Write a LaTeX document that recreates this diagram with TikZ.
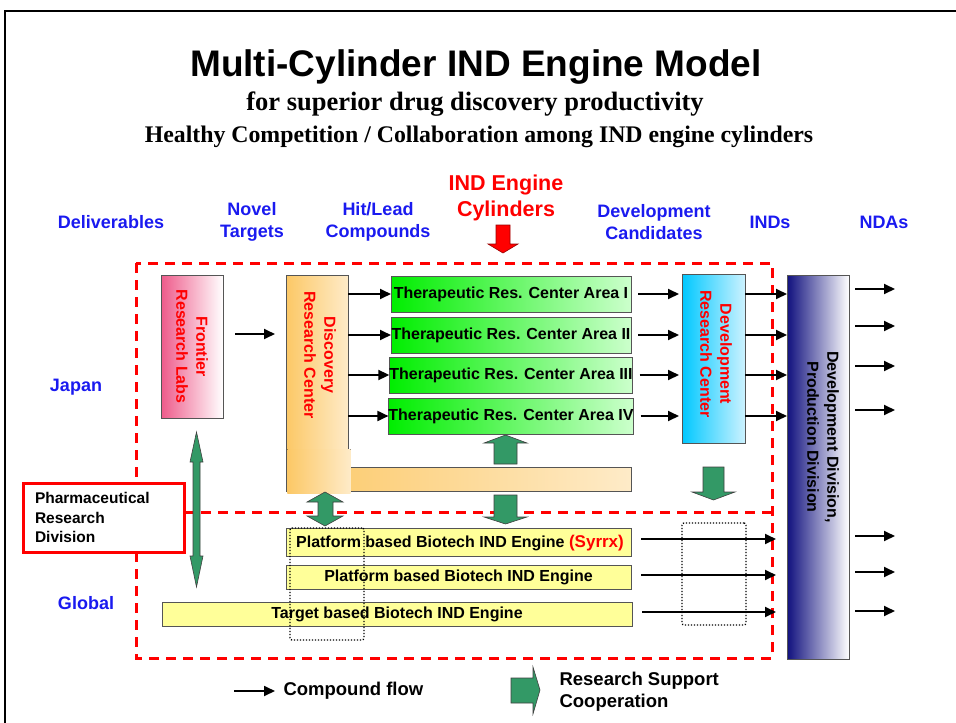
\documentclass[tikz,border=0pt]{standalone}
\usepackage{fontspec}
\setmainfont{Liberation Sans}
\newfontfamily\timesf{Liberation Serif}
\usetikzlibrary{arrows.meta}
\definecolor{hdrblue}{HTML}{1A1AF0}
\definecolor{pinkL}{HTML}{EE5A8A}
\definecolor{orgL}{HTML}{FCC866}
\definecolor{orgR}{HTML}{FEEBC8}
\definecolor{thG}{HTML}{00EE00}
\definecolor{thL}{HTML}{CCFFCC}
\definecolor{cyL}{HTML}{00C8FF}
\definecolor{cyR}{HTML}{CCF2FF}
\definecolor{navy}{HTML}{10107E}
\definecolor{yel}{HTML}{FFFF99}
\definecolor{agreen}{HTML}{339966}
\definecolor{boxline}{HTML}{555555}
\begin{document}
\begin{tikzpicture}[x=1pt,y=-1pt,
  box/.style={draw=boxline, line width=0.8pt, inner sep=0pt, outer sep=0pt},
  flow/.style={line width=1.8pt, -{Triangle[length=11pt,width=10pt]}},
  blk/.style={fill=agreen, draw=black!75, line width=0.6pt},
  hdr/.style={text=hdrblue, font=\bfseries\fontsize{18}{22}\selectfont, align=center},
  vtxt/.style={rotate=-90, align=center, font=\bfseries\fontsize{16}{20}\selectfont},
  bt/.style={font=\bfseries\fontsize{16}{18}\selectfont},
  ther/.style={box, left color=thG, right color=thL, minimum width=240pt, minimum height=36pt, bt},
  ybox/.style={box, fill=yel, bt},
  rdash/.style={draw=red, line width=3pt, dash pattern=on 10pt off 7pt},
  dotbox/.style={draw=black, line width=1.3pt, dash pattern=on 1.2pt off 1.8pt, rounded corners=2pt, inner sep=0pt}
]
\useasboundingbox (0,0) rectangle (956,723);
\fill[white] (0,0) rectangle (956,723);
% frame
\draw[line width=2.5pt] (5,723) -- (5,11) -- (956,11);

% titles
\node (title) at (476,67) {\bfseries\fontsize{37}{40}\selectfont Multi-Cylinder IND Engine Model};
\node (sub1) at (475,104) {\timesf\bfseries\fontsize{26.5}{28}\selectfont for superior drug discovery productivity};
\node (sub2) at (479,137) {\timesf\bfseries\fontsize{23.8}{26}\selectfont Healthy Competition / Collaboration among IND engine cylinders};

% headers
\node[hdr] (hdel) at (111,222) {Deliverables};
\node[hdr] (hnov) at (252,222) {Novel\\Targets};
\node[hdr] (hhit) at (378,222) {Hit/Lead\\Compounds};
\node[align=center, text=red, font=\bfseries\fontsize{21.5}{26}\selectfont] (hind) at (506,198) {IND Engine\\Cylinders};
\node[hdr] (hdev) at (654,222) {Development\\Candidates};
\node[hdr] (hinds) at (770,222) {INDs};
\node[hdr] (hnda) at (884,222) {NDAs};
\filldraw[fill=red, draw=red!60!black, line width=0.6pt] (496,225) -- (510,225) -- (510,244) -- (518,244) -- (503,253) -- (488,244) -- (496,244) -- cycle;

% region labels
\node[hdr] (japan) at (76,387) {Japan};
\node[hdr] (global) at (86,603) {Global};

% dashed regions
\draw[rdash] (136,263) rectangle (772,658);
\draw[rdash] (184,512) -- (772,512);

% pharma box
\node[draw=red, line width=3pt, fill=white, minimum height=69pt, text width=137pt, inner xsep=12pt, align=left, outer sep=0pt,
  font=\bfseries\fontsize{15.5}{19.5}\selectfont] (pharm) at (103.5,517.5) {Pharmaceutical\\Research\\Division};

% Frontier
\node[box, left color=pinkL, right color=white, minimum width=62pt, minimum height=143pt] (fr) at (192,346.5) {};
\node[vtxt, text=red] (frt) at (fr.center) {Frontier\\Research Labs};

% Discovery (L shape)
\node[box, left color=orgL, right color=orgR, minimum width=345pt, minimum height=24pt] (discbar) at (458.5,479) {};
\node[box, left color=orgL, right color=orgR, minimum width=62pt, minimum height=216pt] (disc) at (317,383) {};
\fill[left color=orgL, right color=orgR] (287.3,449) rectangle (350.5,493);
\node[vtxt, text=red] (disct) at (320,355) {Discovery\\Research Center};

% Therapeutic centers
\node[ther] (t1) at (511,294) {Therapeutic Res. Center Area I};
\node[ther] (t2) at (511,335) {Therapeutic Res. Center Area II};
\node[ther] (t3) at (511,375) {Therapeutic Res. Center Area III};
\node[ther] (t4) at (511,416) {Therapeutic Res. Center Area IV};

% Development research center
\node[box, left color=cyL, right color=cyR, minimum width=63pt, minimum height=169pt] (dev) at (713.5,358.5) {};
\node[vtxt, text=red] (devt) at (716,354) {Development\\Research Center};

% Development division
\node[box, left color=navy, right color=white, minimum width=62pt, minimum height=384pt] (dd) at (818,467) {};
\node[vtxt, text=black] (ddt) at (823,437) {Development Division,\\Production Division};

% platform boxes
\node[ybox, minimum width=345pt, minimum height=28pt] (p1) at (458.5,542) {};
\node[bt] (p1t) at (460,543) {Platform based Biotech IND Engine {\color{red}\fontsize{17}{18}\selectfont(Syrrx)}};
\node[ybox, minimum width=345pt, minimum height=24pt] (p2) at (458.5,577) {Platform based Biotech IND Engine};
\node[ybox, minimum width=470pt, minimum height=24pt] (p3) at (397,614) {Target based Biotech IND Engine};

% dotted boxes
\node[dotbox, minimum width=74pt, minimum height=112pt] (dl) at (327,584) {};
\node[dotbox, minimum width=64pt, minimum height=102pt] (dr) at (714,574) {};

% compound flow arrows
\coordinate (yfr) at (0,334);
\draw[flow, shorten <=12pt, shorten >=11pt] (fr.east |- yfr) -- (disc.west |- yfr);
\foreach \t in {t1,t2,t3,t4}{
  \draw[flow] (disc.east |- \t) -- (\t.west);
  \draw[flow, shorten <=7pt, shorten >=3pt] (\t.east) -- (dev.west |- \t);
  \draw[flow] (dev.east |- \t) -- (dd.west |- \t);
}
\coordinate (o1) at (895,289);
\coordinate (o2) at (895,326);
\coordinate (o3) at (895,366);
\coordinate (o4) at (895,410);
\coordinate (o5) at (895,536);
\coordinate (o6) at (895,572);
\coordinate (o7) at (895,611);
\foreach \o in {o1,o2,o3,o4,o5,o6,o7}{
  \draw[flow, shorten <=6pt] (dd.east |- \o) -- (\o);
}
\coordinate (e1) at (776,539);
\coordinate (e2) at (776,575);
\coordinate (e3) at (776,612);
\draw[flow, shorten <=10pt] (p1.east |- e1) -- (e1);
\draw[flow, shorten <=10pt] (p2.east |- e2) -- (e2);
\draw[flow, shorten <=10pt] (p3.east |- e3) -- (e3);

% green block arrows
\filldraw[blk] (494,464) -- (494,443) -- (484,443) -- (505.5,435) -- (527,443) -- (517,443) -- (517,464) -- cycle;
\filldraw[blk] (494,495) -- (517,495) -- (517,517) -- (527,517) -- (505.5,524) -- (484,517) -- (494,517) -- cycle;
\filldraw[blk] (325,492) -- (343,502) -- (333,502) -- (333,516) -- (343,516) -- (325,526) -- (307,516) -- (318,516) -- (318,502) -- (307,502) -- cycle;
\filldraw[blk] (703,467) -- (724,467) -- (724,492) -- (735,492) -- (713.5,500) -- (692,492) -- (703,492) -- cycle;
\filldraw[blk] (196.5,432) -- (203,462) -- (200,462) -- (200,556) -- (203,556) -- (196.5,587) -- (190,556) -- (193,556) -- (193,462) -- (190,462) -- cycle;

% legend
\node[anchor=west, font=\bfseries\fontsize{18.5}{22}\selectfont] (cf) at (280,691) {Compound flow};
\draw[flow] ([xshift=-46pt]cf.west) -- ([xshift=-5pt]cf.west);
\node[anchor=west, align=left, font=\bfseries\fontsize{18.5}{22}\selectfont] (rs) at (556,692) {Research Support\\Cooperation};
\filldraw[blk] (511,678) -- (533,678) -- (533,667) -- (540,690) -- (533,714) -- (533,703) -- (511,703) -- cycle;
\end{tikzpicture}
\end{document}
